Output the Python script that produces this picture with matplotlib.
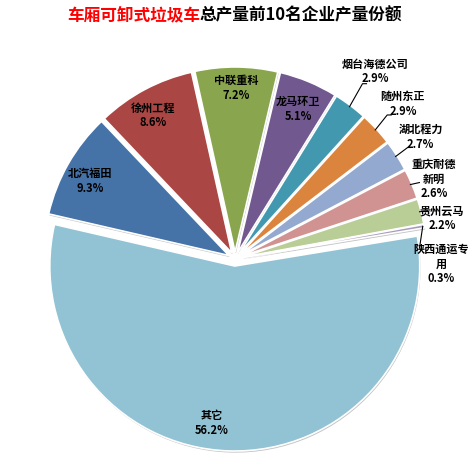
import numpy as np
import matplotlib.pyplot as plt
from matplotlib.patches import Wedge

plt.rcParams['font.family'] = ['Noto Sans CJK SC', 'DejaVu Sans']

# data
companies = ['北汽福田', '徐州工程', '中联重科', '龙马环卫', '烟台海德公司', '随州东正',
             '湖北程力', '重庆耐德\n新明', '贵州云马', '陕西通运专\n用', '其它']
shares = [9.3, 8.6, 7.2, 5.1, 2.9, 2.9, 2.7, 2.6, 2.2, 0.3, 56.2]
colors = ['#4572A7', '#AA4643', '#89A54E', '#71588F', '#4198AF', '#DB843D',
          '#93A9CF', '#D19392', '#B9CD96', '#A99BBD', '#92C3D4']

W, H = 475, 463
cx, cy, R = 235, 259, 185   # pie centre / radius in pixels
EXPL = 0.038

fig = plt.figure(figsize=(W / 100, H / 100), dpi=100)
ax = fig.add_axes([0, 0, 1, 1])
wedges, _ = ax.pie(shares, colors=colors, startangle=167, counterclock=False,
                   explode=[EXPL] * len(shares), radius=1,
                   wedgeprops=dict(edgecolor='white', linewidth=1.2))
ax.set_xlim(-cx / R, (W - cx) / R)
ax.set_ylim(-(H - cy) / R, cy / R)
ax.axis('off')

# soft grey shadow under every slice, like the Excel look
for w in wedges:
    sh = Wedge((w.center[0] + 0.8 / R, w.center[1] - 1.6 / R), w.r, w.theta1, w.theta2,
               facecolor='#c4c4c4', edgecolor='none', zorder=w.get_zorder() - 0.1)
    ax.add_patch(sh)

# label layout: (angle offset from slice middle in deg, distance from centre)
inside = {0: (1.4, 0.89), 1: (1.7, 0.895), 2: (0.0, 0.925), 3: (-0.3, 0.88), 10: (-6.2, 0.895)}
outside = {4: (0.2, 1.265), 5: (0.1, 1.235), 6: (0.8, 1.20),
           7: (-1.1, 1.16), 8: (-3.2, 1.14), 9: (-11.3, 1.113)}
# leader lines: elbow offset from slice edge (px), then horizontal tail (px)
leaders = {4: (13, 23, 4), 5: (12, 15, 4), 6: (12, 9, 3),
           7: (9, 2, 0), 8: (8, 1, 0), 9: (-3, -20, 0)}

fs = 8
for i, w in enumerate(wedges):
    mid = np.deg2rad((w.theta1 + w.theta2) / 2)
    txt = f'{companies[i]}\n{shares[i]:.1f}%'
    if i in inside:
        da, r = inside[i]
    else:
        da, r = outside[i]
        sx = (1 + EXPL - 0.008) * np.cos(mid)
        sy = (1 + EXPL - 0.008) * np.sin(mid)
        ex, ey, tail = leaders[i]
        xs = [sx, sx + ex / R, sx + (ex + tail) / R]
        ys = [sy, sy + ey / R, sy + ey / R]
        ax.plot(xs, ys, color='black', lw=0.8)
    a = mid + np.deg2rad(da)
    ax.text(r * np.cos(a), r * np.sin(a), txt, ha='center', va='center',
            fontsize=fs, fontweight='bold', linespacing=1.15, color='black')

# title in two colours
ty = 1 - 15 / H
fig.text(200 / W, ty, '车厢可卸式垃圾车', color='#FF0000', fontsize=12,
         fontweight='bold', ha='right', va='center')
fig.text(200 / W, ty, '总产量前10名企业产量份额', color='black', fontsize=12,
         fontweight='bold', ha='left', va='center')

fig.savefig('out.png', dpi=100)
